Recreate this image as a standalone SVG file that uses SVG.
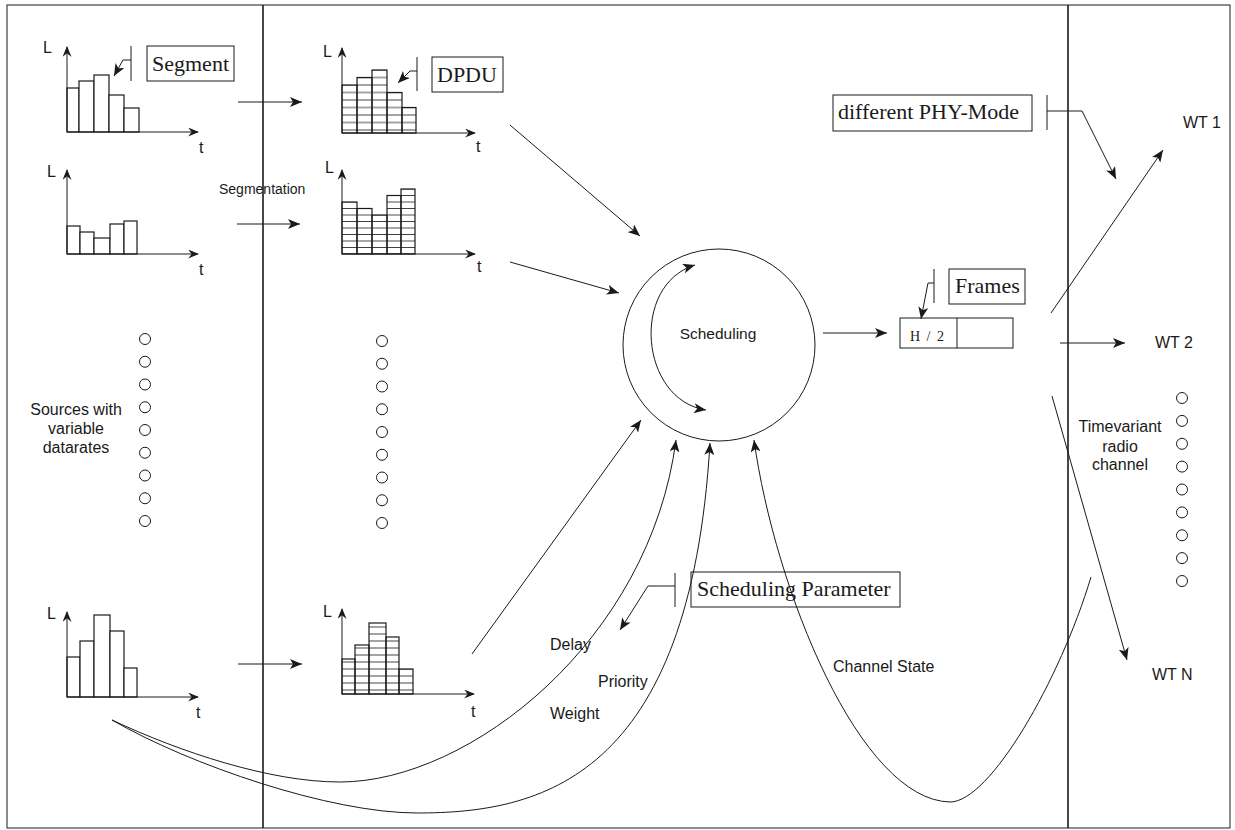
<svg xmlns="http://www.w3.org/2000/svg" width="1235" height="830" viewBox="0 0 1235 830">
<style>
.ln{stroke:#1a1a1a;stroke-width:1;fill:none}
.bar{stroke:#1a1a1a;stroke-width:1.2}
.dv{stroke:#1a1a1a;stroke-width:1.6;fill:none}
.sans{font-family:"Liberation Sans",Arial,sans-serif;fill:#1a1a1a}
.serif{font-family:"Liberation Serif","Times New Roman",serif;fill:#1a1a1a;font-size:22px}
.box{fill:#fff;stroke:#1a1a1a;stroke-width:1}
.dot{fill:none;stroke:#1a1a1a;stroke-width:1}
</style>
<defs>
<marker id="ah" viewBox="0 0 12 10" refX="12" refY="5" markerWidth="12" markerHeight="10" markerUnits="userSpaceOnUse" orient="auto-start-reverse"><path d="M0,0 L12,5 L0,10 L3,5 z" fill="#1a1a1a"/></marker>
<marker id="ax" viewBox="0 0 12 10" refX="11" refY="5" markerWidth="11" markerHeight="9" markerUnits="userSpaceOnUse" orient="auto"><path d="M0,0 L12,5 L0,10 L4,5 z" fill="#1a1a1a"/></marker>
<pattern id="g2" patternUnits="userSpaceOnUse" x="0" y="126.25" width="20" height="7.5"><line x1="0" y1="3.75" x2="20" y2="3.75" stroke="#333" stroke-width="0.9"/></pattern>
<pattern id="g4" patternUnits="userSpaceOnUse" x="0" y="250.75" width="20" height="6.5"><line x1="0" y1="3.25" x2="20" y2="3.25" stroke="#333" stroke-width="0.9"/></pattern>
<pattern id="g6" patternUnits="userSpaceOnUse" x="0" y="686.5" width="20" height="7"><line x1="0" y1="3.5" x2="20" y2="3.5" stroke="#333" stroke-width="0.9"/></pattern>
</defs>
<rect x="0" y="0" width="1235" height="830" fill="#fff"/>
<rect x="7" y="5" width="1223" height="823" class="ln"/>
<line x1="263" y1="5" x2="263" y2="828" class="dv"/>
<line x1="1068" y1="5" x2="1068" y2="828" class="dv"/>

<g id="chart1">
<rect x="67" y="88" width="12" height="44" class="bar" fill="#fff"/>
<rect x="79" y="81" width="15" height="51" class="bar" fill="#fff"/>
<rect x="94" y="75" width="15" height="57" class="bar" fill="#fff"/>
<rect x="109" y="95" width="15" height="37" class="bar" fill="#fff"/>
<rect x="124" y="108" width="15" height="24" class="bar" fill="#fff"/>
<line x1="67" y1="132" x2="67" y2="47" class="ln" marker-end="url(#ax)"/>
<line x1="67" y1="132" x2="198" y2="132" class="ln" marker-end="url(#ax)"/>
<text x="43" y="53" class="sans" font-size="16">L</text>
<text x="199" y="153" class="sans" font-size="16">t</text>
</g>
<g id="segment-label">
<rect x="147" y="46" width="87" height="35" class="box"/>
<text x="152" y="71" class="serif">Segment</text>
<path d="M131,46 V81 M131,60 H123 L114,76" class="ln" marker-end="url(#ah)"/>
</g>

<g id="chart2">
<rect x="342" y="85" width="15" height="48" class="bar" fill="url(#g2)"/>
<rect x="357" y="77.5" width="15" height="55.5" class="bar" fill="url(#g2)"/>
<rect x="372" y="70" width="15" height="63" class="bar" fill="url(#g2)"/>
<rect x="387" y="92.5" width="15" height="40.5" class="bar" fill="url(#g2)"/>
<rect x="402" y="107.5" width="14" height="25.5" class="bar" fill="url(#g2)"/>
<line x1="342" y1="133" x2="342" y2="48" class="ln" marker-end="url(#ax)"/>
<line x1="342" y1="133" x2="475" y2="133" class="ln" marker-end="url(#ax)"/>
<text x="323" y="57" class="sans" font-size="16">L</text>
<text x="476" y="152" class="sans" font-size="16">t</text>
</g>
<g id="dpdu-label">
<rect x="432" y="57" width="71" height="35" class="box"/>
<text x="437" y="82" class="serif">DPDU</text>
<path d="M417,57 V91 M417,71 H410 L398,83" class="ln" marker-end="url(#ah)"/>
</g>

<g id="chart3">
<rect x="67" y="226" width="13" height="28" class="bar" fill="#fff"/>
<rect x="80" y="232" width="14" height="22" class="bar" fill="#fff"/>
<rect x="94" y="238" width="16" height="16" class="bar" fill="#fff"/>
<rect x="110" y="224" width="14" height="30" class="bar" fill="#fff"/>
<rect x="124" y="221" width="13" height="33" class="bar" fill="#fff"/>
<line x1="67" y1="254" x2="67" y2="170" class="ln" marker-end="url(#ax)"/>
<line x1="67" y1="254" x2="198" y2="254" class="ln" marker-end="url(#ax)"/>
<text x="47" y="177" class="sans" font-size="16">L</text>
<text x="199" y="275" class="sans" font-size="16">t</text>
</g>

<g id="chart4">
<rect x="342" y="202" width="15" height="52" class="bar" fill="url(#g4)"/>
<rect x="357" y="208.5" width="15" height="45.5" class="bar" fill="url(#g4)"/>
<rect x="372" y="215" width="15" height="39" class="bar" fill="url(#g4)"/>
<rect x="387" y="195.5" width="14" height="58.5" class="bar" fill="url(#g4)"/>
<rect x="401" y="189" width="14" height="65" class="bar" fill="url(#g4)"/>
<line x1="342" y1="254" x2="342" y2="170" class="ln" marker-end="url(#ax)"/>
<line x1="342" y1="254" x2="475" y2="254" class="ln" marker-end="url(#ax)"/>
<text x="325" y="173" class="sans" font-size="16">L</text>
<text x="477" y="272" class="sans" font-size="16">t</text>
</g>

<g id="chart5">
<rect x="67" y="657" width="13" height="40" class="bar" fill="#fff"/>
<rect x="80" y="641" width="14" height="56" class="bar" fill="#fff"/>
<rect x="94" y="615" width="16" height="82" class="bar" fill="#fff"/>
<rect x="110" y="631" width="14" height="66" class="bar" fill="#fff"/>
<rect x="124" y="668" width="13" height="29" class="bar" fill="#fff"/>
<line x1="67" y1="697" x2="67" y2="612" class="ln" marker-end="url(#ax)"/>
<line x1="67" y1="697" x2="198" y2="697" class="ln" marker-end="url(#ax)"/>
<text x="47" y="619" class="sans" font-size="16">L</text>
<text x="196" y="718" class="sans" font-size="16">t</text>
</g>

<g id="chart6">
<rect x="342" y="659" width="13" height="35" class="bar" fill="url(#g6)"/>
<rect x="355" y="645" width="14" height="49" class="bar" fill="url(#g6)"/>
<rect x="369" y="623" width="17" height="71" class="bar" fill="url(#g6)"/>
<rect x="386" y="637" width="13" height="57" class="bar" fill="url(#g6)"/>
<rect x="399" y="669" width="14" height="25" class="bar" fill="url(#g6)"/>
<line x1="342" y1="694" x2="342" y2="609" class="ln" marker-end="url(#ax)"/>
<line x1="342" y1="694" x2="474" y2="694" class="ln" marker-end="url(#ax)"/>
<text x="323" y="617" class="sans" font-size="16">L</text>
<text x="471" y="717" class="sans" font-size="16">t</text>
</g>

<g id="sources">
<g class="dot">
<circle cx="145" cy="339" r="5.5"/><circle cx="145" cy="361.75" r="5.5"/><circle cx="145" cy="384.5" r="5.5"/><circle cx="145" cy="407.25" r="5.5"/><circle cx="145" cy="430" r="5.5"/><circle cx="145" cy="452.75" r="5.5"/><circle cx="145" cy="475.5" r="5.5"/><circle cx="145" cy="498.25" r="5.5"/><circle cx="145" cy="521" r="5.5"/>
</g>
<text class="sans" font-size="16" text-anchor="middle"><tspan x="76" y="415">Sources with</tspan><tspan x="76" y="434">variable</tspan><tspan x="76" y="453">datarates</tspan></text>
</g>

<g id="dpdu-queue" class="dot">
<circle cx="382" cy="341" r="5.5"/><circle cx="382" cy="363.75" r="5.5"/><circle cx="382" cy="386.5" r="5.5"/><circle cx="382" cy="409.25" r="5.5"/><circle cx="382" cy="432" r="5.5"/><circle cx="382" cy="454.75" r="5.5"/><circle cx="382" cy="477.5" r="5.5"/><circle cx="382" cy="500.25" r="5.5"/><circle cx="382" cy="523" r="5.5"/>
</g>

<g id="terminals">
<g class="dot">
<circle cx="1182" cy="398" r="5.5"/><circle cx="1182" cy="420.9" r="5.5"/><circle cx="1182" cy="443.8" r="5.5"/><circle cx="1182" cy="466.6" r="5.5"/><circle cx="1182" cy="489.5" r="5.5"/><circle cx="1182" cy="512.4" r="5.5"/><circle cx="1182" cy="535.3" r="5.5"/><circle cx="1182" cy="558.1" r="5.5"/><circle cx="1182" cy="581" r="5.5"/>
</g>
<text class="sans" font-size="16" text-anchor="middle"><tspan x="1120" y="432">Timevariant</tspan><tspan x="1120" y="452">radio</tspan><tspan x="1120" y="470">channel</tspan></text>
<text x="1183" y="128" class="sans" font-size="16">WT 1</text>
<text x="1155" y="348" class="sans" font-size="16">WT 2</text>
<text x="1152" y="680" class="sans" font-size="16">WT N</text>
</g>

<g id="scheduler">
<ellipse cx="719" cy="345" rx="96" ry="96" class="ln"/>
<path d="M695,265 C630,285 640,400 706,410" class="ln" marker-start="url(#ah)" marker-end="url(#ah)"/>
<text x="718" y="339" class="sans" font-size="15.5" text-anchor="middle">Scheduling</text>
</g>

<g id="frame">
<rect x="900" y="318" width="113" height="30" class="box"/>
<line x1="957" y1="318" x2="957" y2="348" class="ln"/>
<text x="910" y="341" class="serif" style="font-size:14px" word-spacing="3">H / 2</text>
<rect x="949" y="269" width="76" height="35" class="box"/>
<text x="955" y="293" class="serif">Frames</text>
<path d="M934,269 V303 M934,283 H928 L921,319" class="ln" marker-end="url(#ah)"/>
</g>

<g id="phy-label">
<rect x="833" y="95" width="199" height="36" class="box"/>
<text x="838" y="119" class="serif">different PHY-Mode</text>
<path d="M1047,95 V130 M1047,111 H1082 L1116,179" class="ln" marker-end="url(#ah)"/>
</g>

<g id="param-label">
<rect x="691" y="572" width="209" height="35" class="box"/>
<text x="697" y="596" class="serif">Scheduling Parameter</text>
<path d="M675,573 V607 M675,586 H648 L620,630" class="ln" marker-end="url(#ah)"/>
</g>

<g id="connectors">
<line x1="238" y1="102" x2="302" y2="102" class="ln" marker-end="url(#ah)"/>
<line x1="237" y1="224" x2="300" y2="224" class="ln" marker-end="url(#ah)"/>
<line x1="238" y1="664" x2="302" y2="664" class="ln" marker-end="url(#ah)"/>
<line x1="510" y1="125" x2="640" y2="236" class="ln" marker-end="url(#ah)"/>
<line x1="510" y1="262" x2="619" y2="293" class="ln" marker-end="url(#ah)"/>
<line x1="472" y1="654" x2="641" y2="420" class="ln" marker-end="url(#ah)"/>
<line x1="823" y1="333" x2="887" y2="333" class="ln" marker-end="url(#ah)"/>
<line x1="1051" y1="313" x2="1163" y2="150" class="ln" marker-end="url(#ah)"/>
<line x1="1060" y1="343" x2="1125" y2="343" class="ln" marker-end="url(#ah)"/>
<line x1="1052" y1="396" x2="1127" y2="660" class="ln" marker-end="url(#ah)"/>
<path d="M112,720 C180,752 270,782 340,782 C470,782 650,640 676,440" class="ln" marker-end="url(#ah)"/>
<path d="M112,720 C190,765 330,813 417,813 C540,813 690,780 710,443" class="ln" marker-end="url(#ah)"/>
<path d="M1091,577 C1060,680 990,802 950,802 C860,800 775,590 754,440" class="ln" marker-end="url(#ah)"/>
</g>

<g id="labels">
<text x="219" y="194" class="sans" font-size="14">Segmentation</text>
<text x="550" y="650" class="sans" font-size="16">Delay</text>
<text x="598" y="687" class="sans" font-size="16">Priority</text>
<text x="550" y="719" class="sans" font-size="16">Weight</text>
<text x="833" y="672" class="sans" font-size="16">Channel State</text>
</g>
</svg>
